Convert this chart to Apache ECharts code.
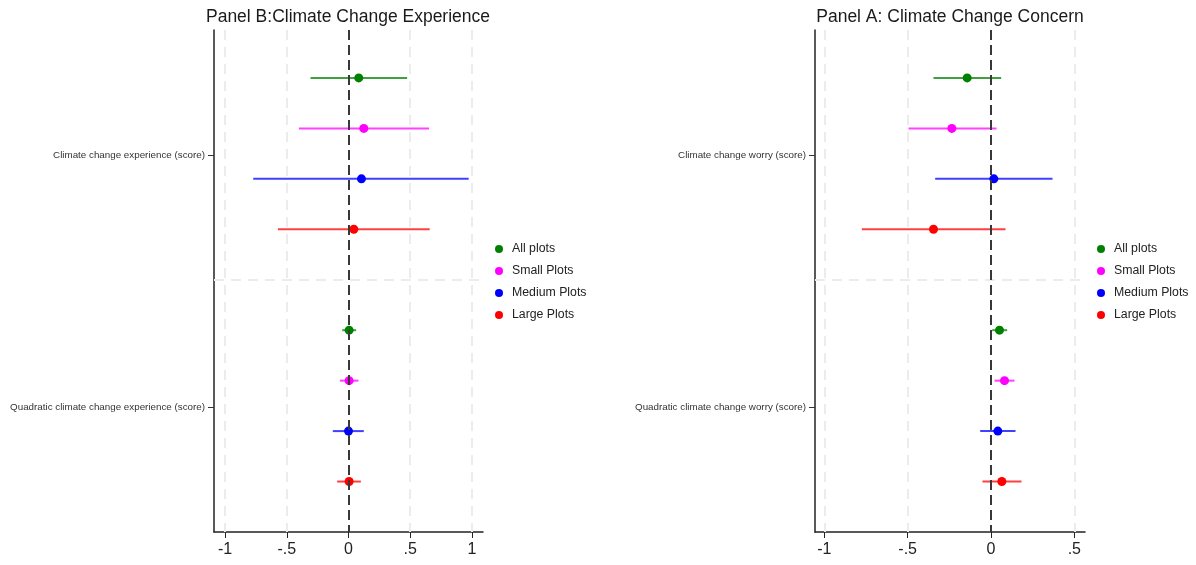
<!DOCTYPE html>
<html>
<head>
<meta charset="utf-8">
<script src="https://cdn.jsdelivr.net/npm/echarts@6/dist/echarts.min.js"></script>
<style>
  html, body { margin: 0; background: #fff; }
  #main { width: 1196px; height: 565px; }
</style>
</head>
<body>
<div id="main"></div>
<script>
const groups = ["All plots", "Small Plots", "Medium Plots", "Large Plots"];
const colors = ["#008000", "#ff00ff", "#0000ff", "#ff0000"];

// Panel B: experience (left)
const termsB = ["Climate change experience (score)", "Quadratic climate change experience (score)"];
const estB1 = [0.083, 0.124, 0.105, 0.043];
const loB1 = [-0.308, -0.402, -0.772, -0.572];
const hiB1 = [0.475, 0.653, 0.974, 0.658];
const estB2 = [0.005, 0.005, 0.0, 0.005];
const loB2 = [-0.051, -0.070, -0.127, -0.092];
const hiB2 = [0.062, 0.081, 0.124, 0.100];
const ticksB = [-1, -0.5, 0, 0.5, 1];

// Panel A: concern (right)
const termsA = ["Climate change worry (score)", "Quadratic climate change worry (score)"];
const estA1 = [-0.143, -0.235, 0.017, -0.345];
const loA1 = [-0.345, -0.495, -0.335, -0.775];
const hiA1 = [0.061, 0.033, 0.369, 0.087];
const estA2 = [0.051, 0.081, 0.041, 0.065];
const loA2 = [0.007, 0.021, -0.065, -0.051];
const hiA2 = [0.097, 0.141, 0.147, 0.183];
const ticksA = [-1, -0.5, 0, 0.5];

const FONT = "'Liberation Sans', Arial, sans-serif";
const fmt = v => (v === 0 ? "0" : String(v).replace("0.", "."));
const rowOf = (t, g) => t * 5 + g + 1;

const chart = echarts.init(document.getElementById("main"));

function errBar(params, api) {
  const a = api.coord([api.value(0), api.value(2)]);
  const b = api.coord([api.value(1), api.value(2)]);
  return {
    type: "line",
    shape: { x1: a[0], y1: a[1], x2: b[0], y2: b[1] },
    style: { stroke: api.visual("color"), lineWidth: 2, opacity: 0.75 }
  };
}

const panels = [
  { terms: termsB, est: [estB1, estB2], lo: [loB1, loB2], hi: [hiB1, hiB2], ticks: ticksB, min: -1.09, max: 1.09 },
  { terms: termsA, est: [estA1, estA2], lo: [loA1, loA2], hi: [hiA1, hiA2], ticks: ticksA, min: -1.056, max: 0.564 }
];

const series = [];
panels.forEach((p, i) => {
  // light grid lines
  series.push({
    type: "line", xAxisIndex: i, yAxisIndex: i, data: [], z: 1,
    markLine: {
      silent: true, symbol: "none", label: { show: false },
      lineStyle: { color: "#ececec", width: 2, type: [10, 7] },
      data: p.ticks.filter(v => v !== 0).map(v => ({ xAxis: v })).concat([{ yAxis: 5 }])
    }
  });
  groups.forEach((name, g) => {
    series.push({
      type: "custom", name: name, xAxisIndex: i, yAxisIndex: i, z: 2,
      itemStyle: { color: colors[g] },
      renderItem: errBar,
      encode: { x: [0, 1], y: 2 },
      data: [0, 1].map(t => [p.lo[t][g], p.hi[t][g], rowOf(t, g)])
    });
  });
  // zero reference line
  series.push({
    type: "line", xAxisIndex: i, yAxisIndex: i, data: [], z: 3,
    markLine: {
      silent: true, symbol: "none", label: { show: false },
      lineStyle: { color: "#383838", width: 2, type: [10, 5] },
      data: [{ xAxis: 0 }]
    }
  });
  groups.forEach((name, g) => {
    series.push({
      type: "scatter", name: name, xAxisIndex: i, yAxisIndex: i, z: 4,
      symbolSize: 9, itemStyle: { color: colors[g], opacity: 1 },
      data: [0, 1].map(t => [p.est[t][g], rowOf(t, g)])
    });
  });
});

const grids = [
  { left: 214, top: 30, width: 269, height: 502 },
  { left: 815, top: 30, width: 270, height: 502 }
];

const xAxes = panels.map((p, i) => ({
  type: "value", gridIndex: i, min: p.min, max: p.max,
  axisLine: { show: true, onZero: false, lineStyle: { color: "#222", width: 1.5 } },
  axisTick: { show: true, length: 6, customValues: p.ticks, lineStyle: { color: "#222" } },
  axisLabel: { customValues: p.ticks, formatter: fmt, fontSize: 16, color: "#222", margin: 10, fontFamily: FONT },
  splitLine: { show: false }
}));

const yAxes = panels.map((p, i) => ({
  type: "value", gridIndex: i, min: 0.05, max: 10, inverse: true,
  axisLine: { show: true, onZero: false, lineStyle: { color: "#222", width: 1.5 } },
  axisTick: { show: true, length: 6, customValues: [2.53, 7.53], lineStyle: { color: "#333" } },
  axisLabel: {
    customValues: [2.53, 7.53], fontSize: 9.8, color: "#333", margin: 9, fontFamily: FONT,
    formatter: v => p.terms[v < 5 ? 0 : 1]
  },
  splitLine: { show: false }
}));

const legendBase = {
  orient: "vertical", top: 237, icon: "circle",
  itemWidth: 16, itemHeight: 8, itemGap: 8,
  selectedMode: false,
  textStyle: { fontSize: 12.3, color: "#222", lineHeight: 14, fontFamily: FONT },
  data: groups
};

chart.setOption({
  backgroundColor: "#fff",
  animation: false,
  grid: grids,
  xAxis: xAxes,
  yAxis: yAxes,
  legend: [
    Object.assign({}, legendBase, { left: 490 }),
    Object.assign({}, legendBase, { left: 1092 })
  ],
  graphic: [
    { type: "text", x: 348, y: 17, style: { text: "Panel B:Climate Change Experience", font: "17.5px " + FONT, fill: "#1a1a1a", textAlign: "center", textVerticalAlign: "middle" } },
    { type: "text", x: 950, y: 17, style: { text: "Panel A: Climate Change Concern", font: "17.5px " + FONT, fill: "#1a1a1a", textAlign: "center", textVerticalAlign: "middle" } }
  ],
  series: series
});
</script>
</body>
</html>
